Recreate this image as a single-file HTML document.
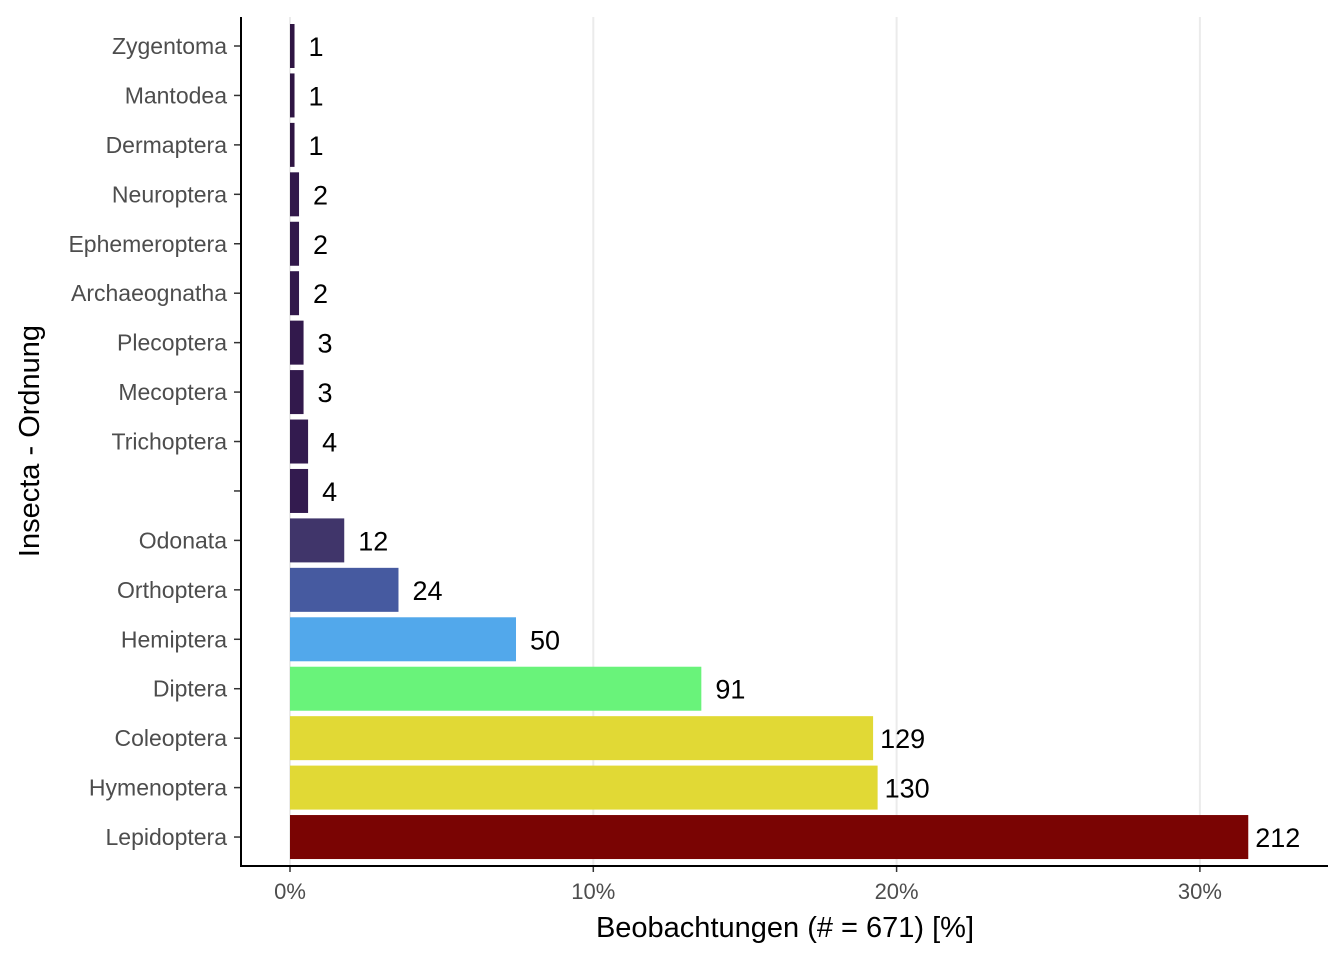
<!DOCTYPE html>
<html><head><meta charset="utf-8"><style>
body{margin:0;background:#fff;}
svg text{font-family:"Liberation Sans",sans-serif;}
</style></head><body>
<svg id="chart" width="1344" height="960"></svg>
<script>
const categories=["Zygentoma","Mantodea","Dermaptera","Neuroptera","Ephemeroptera","Archaeognatha","Plecoptera","Mecoptera","Trichoptera","","Odonata","Orthoptera","Hemiptera","Diptera","Coleoptera","Hymenoptera","Lepidoptera"];
const counts=[1,1,1,2,2,2,3,3,4,4,12,24,50,91,129,130,212];
const barColors=["#2f1543","#2f1543","#2f1543","#31184a","#31184a","#31184a","#32194c","#32194c","#331b4f","#331b4f","#40356a","#465aa0","#52a8eb","#69f37a","#e1d935","#e1d935","#7a0403"];
const xTicks=[0,10,20,30];
const xTickLabels=["0%","10%","20%","30%"];
const total=671;
const svg=document.getElementById('chart');
const NS='http://www.w3.org/2000/svg';
const x=v=>290+v*30.33;
const y=i=>46+i*49.44;
function mk(tag,attrs,txt){const e=document.createElementNS(NS,tag);for(const k in attrs)e.setAttribute(k,attrs[k]);if(txt!==undefined)e.textContent=txt;svg.appendChild(e);return e;}
xTicks.forEach((t,i)=>{
  const g=mk('line',{x1:x(t),x2:x(t),y1:17,y2:866,stroke:'#ebebeb','stroke-width':2});
  
  
  const tk=mk('line',{x1:x(t),x2:x(t),y1:866,y2:872,stroke:'#333','stroke-width':1.5});
  
  
  const l=mk('text',{x:x(t),y:899,'text-anchor':'middle','font-size':22,fill:'#4d4d4d'},xTickLabels[i]);
  
  
});
categories.forEach((c,i)=>{
  const p=counts[i]/total*100;
  const b=mk('rect',{x:x(0),y:y(i)-22,width:x(p)-x(0),height:44,fill:barColors[i]});
  
  
  const v=mk('text',{x:x(p)+(counts[i]>=100?7:14),y:y(i)+10,'font-size':27,fill:'#000'},counts[i]);
  
  
  const tk=mk('line',{x1:234,x2:241,y1:y(i),y2:y(i),stroke:'#333','stroke-width':1.5});
  
  
  const l=mk('text',{x:227,y:y(i)+8,'text-anchor':'end','font-size':23,fill:'#4d4d4d'},c);
  
  
});
const ax=mk('path',{d:'M241,17 V866 H1328',stroke:'#000','stroke-width':2,fill:'none'});


const xt=mk('text',{x:785,y:937,'text-anchor':'middle','font-size':29,fill:'#000'},'Beobachtungen (# = '+total+') [%]');


const yt=mk('text',{x:0,y:0,'text-anchor':'middle','font-size':29,fill:'#000',transform:'translate(39,441) rotate(-90)'},'Insecta - Ordnung');


</script>
</body></html>
